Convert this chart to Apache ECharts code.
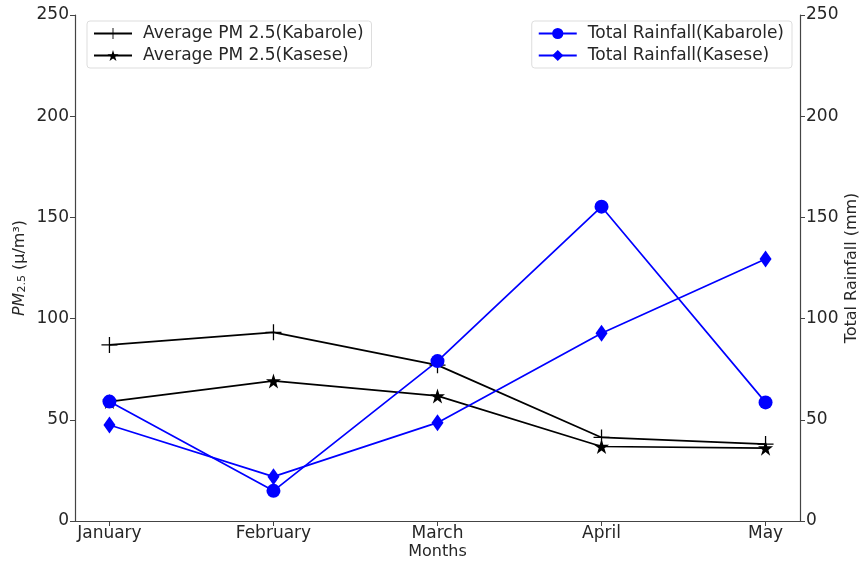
<!DOCTYPE html>
<html><head><meta charset="utf-8">
<script src="https://cdn.jsdelivr.net/npm/echarts@6/dist/echarts.min.js"></script>
<style>html,body{margin:0;padding:0;background:#fff}#c{width:861px;height:561px}</style>
</head><body><div id="c"></div>
<script>
const months = ['January','February','March','April','May'];
const pmKabarole = [87, 93.2, 77, 41.3, 38];
const pmKasese = [59, 69.2, 61.8, 36.8, 36];
const rainKabarole = [59, 14.9, 79, 155.3, 58.6];
const rainKasese = [47.4, 21.9, 48.6, 92.8, 129.4];
const yTicks = [0, 50, 100, 150, 200, 250];

const pts = arr => arr.map((v, i) => [i, v]);
const FONT = 'DejaVu Sans';
const FS = 17;
const TXT = '#262626';
const plusPath = 'path://M-0.08,-1 H0.08 V-0.08 H1 V0.08 H0.08 V1 H-0.08 V0.08 H-1 V-0.08 H-0.08 Z';
const starPath = 'path://M0,-1 L0.2245,-0.309 L0.951,-0.309 L0.363,0.118 L0.588,0.809 L0,0.382 L-0.588,0.809 L-0.363,0.118 L-0.951,-0.309 L-0.2245,-0.309 Z';

const chart = echarts.init(document.getElementById('c'), null, {renderer: 'canvas'});
const axisCommon = {
  axisLine: {show: true, onZero: false, lineStyle: {color: '#444', width: 1.2}},
  axisTick: {show: true, inside: false, length: 5, lineStyle: {color: '#444'}},
  splitLine: {show: false},
  axisLabel: {color: TXT, fontSize: FS, fontFamily: FONT, margin: 6}
};
const legendCommon = {
  orient: 'vertical', top: 21,
  itemWidth: 38, itemHeight: 14, itemGap: 5,
  padding: [4, 8, 4, 6],
  borderColor: '#ddd', borderWidth: 1, borderRadius: 3,
  textStyle: {fontSize: FS, color: TXT, fontFamily: FONT, padding: [0, 0, 0, 6]}
};
chart.setOption({
  animation: false,
  textStyle: {fontFamily: FONT},
  grid: {left: 75, right: 61, top: 15, bottom: 40, containLabel: false, outerBoundsMode: 'none'},
  legend: [
    Object.assign({data: ['Average PM 2.5(Kabarole)', 'Average PM 2.5(Kasese)'], left: 87}, legendCommon),
    Object.assign({data: ['Total Rainfall(Kabarole)', 'Total Rainfall(Kasese)'], right: 69}, legendCommon)
  ],
  xAxis: [{
    type: 'value', min: -0.21, max: 4.21, position: 'bottom',
    name: 'Months', nameLocation: 'middle', nameGap: 23, nameMoveOverlap: false,
    nameTextStyle: {fontSize: FS - 1, color: TXT, fontFamily: FONT},
    ...axisCommon,
    axisLabel: {...axisCommon.axisLabel, customValues: [0,1,2,3,4], formatter: v => months[Math.round(v)] ?? '', margin: 4},
    axisTick: {...axisCommon.axisTick, customValues: [0,1,2,3,4]}
  }, {
    type: 'value', min: -0.21, max: 4.21, position: 'top',
    axisLine: {show: true, lineStyle: {color: '#444', width: 1.2}},
    axisTick: {show: false}, axisLabel: {show: false}, splitLine: {show: false}
  }],
  yAxis: [{
    type: 'value', min: 0, max: 250, interval: 50, position: 'left',
    name: '{i|PM}{s|2.5} (µ/m³)', nameLocation: 'middle', nameGap: 47, nameRotate: 90, nameMoveOverlap: false,
    nameTextStyle: {
      fontSize: FS - 1, color: TXT, fontFamily: FONT,
      rich: {
        i: {fontStyle: 'italic', fontSize: FS - 1, fontFamily: FONT, color: TXT},
        s: {fontSize: 11, fontFamily: FONT, color: TXT, verticalAlign: 'bottom', padding: [6, 0, 0, 0]}
      }
    },
    ...axisCommon
  }, {
    type: 'value', min: 0, max: 250, interval: 50, position: 'right',
    name: 'Total Rainfall (mm)', nameLocation: 'middle', nameGap: 44, nameRotate: 90, nameMoveOverlap: false,
    nameTextStyle: {fontSize: FS - 1, color: TXT, fontFamily: FONT},
    ...axisCommon
  }],
  series: [
    {
      name: 'Average PM 2.5(Kabarole)', type: 'line', xAxisIndex: 0, yAxisIndex: 0,
      data: pts(pmKabarole), symbol: plusPath, symbolSize: 16,
      lineStyle: {color: '#000', width: 1.7}, itemStyle: {color: '#000'}
    },
    {
      name: 'Average PM 2.5(Kasese)', type: 'line', xAxisIndex: 0, yAxisIndex: 0,
      data: pts(pmKasese), symbol: starPath, symbolSize: 15,
      lineStyle: {color: '#000', width: 1.7}, itemStyle: {color: '#000'}
    },
    {
      name: 'Total Rainfall(Kabarole)', type: 'line', xAxisIndex: 0, yAxisIndex: 1,
      data: pts(rainKabarole), symbol: 'circle', symbolSize: 14,
      lineStyle: {color: '#0000ff', width: 1.7}, itemStyle: {color: '#0000ff'}
    },
    {
      name: 'Total Rainfall(Kasese)', type: 'line', xAxisIndex: 0, yAxisIndex: 1,
      data: pts(rainKasese), symbol: 'diamond', symbolSize: [12, 17],
      lineStyle: {color: '#0000ff', width: 1.7}, itemStyle: {color: '#0000ff'}
    }
  ]
});
</script></body></html>
